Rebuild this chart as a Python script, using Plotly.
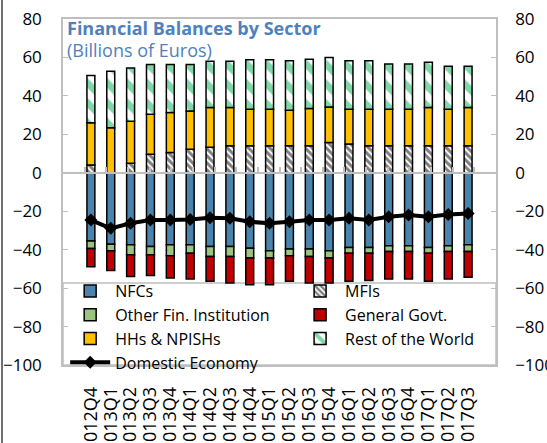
import plotly.graph_objects as go

quarters = ["2012Q4", "2013Q1", "2013Q2", "2013Q3", "2013Q4", "2014Q1", "2014Q2",
            "2014Q3", "2014Q4", "2015Q1", "2015Q2", "2015Q3", "2015Q4", "2016Q1",
            "2016Q2", "2016Q3", "2016Q4", "2017Q1", "2017Q2", "2017Q3"]

nfcs = [-35.5, -37.2, -37.5, -38.4, -37.5, -37.5, -38.4, -38.4, -39.2, -40.6,
        -39.7, -39.7, -40.6, -38.9, -38.9, -38.0, -38.0, -38.9, -38.0, -37.5]
mfis = [4.1, 0.0, 5.0, 9.6, 10.5, 12.2, 13.3, 14.1, 14.1, 14.1,
        14.1, 14.1, 15.8, 15.0, 14.1, 14.1, 14.1, 14.1, 14.1, 14.1]
other_fin = [-3.9, -3.4, -5.2, -4.3, -5.7, -4.3, -5.1, -5.1, -5.2, -3.8,
             -3.5, -3.8, -3.8, -2.9, -2.9, -2.9, -2.9, -2.9, -2.9, -3.4]
general_govt = [-9.5, -10.3, -11.2, -10.8, -11.5, -13.4, -12.9, -13.8, -13.9, -13.9,
                -13.2, -13.8, -12.9, -14.6, -14.3, -14.3, -14.3, -14.6, -14.3, -13.5]
hhs = [21.9, 23.4, 21.8, 20.9, 20.8, 20.0, 20.6, 19.8, 18.9, 18.9,
       18.4, 19.3, 18.4, 18.0, 18.9, 18.9, 18.9, 19.8, 18.9, 19.8]
rest_world = [24.6, 29.4, 27.7, 25.8, 25.0, 24.1, 24.1, 24.1, 25.8, 25.8,
              25.8, 25.7, 25.8, 25.3, 25.3, 23.6, 23.6, 23.6, 22.4, 21.5]
domestic = [-24.6, -28.9, -26.3, -24.6, -24.6, -24.3, -23.4, -23.7, -25.5, -26.3,
            -25.5, -24.6, -24.6, -23.7, -24.6, -22.9, -22.0, -22.9, -21.7, -21.2]

y_ticks = [-100, -80, -60, -40, -20, 0, 20, 40, 60, 80]

FONT = "Open Sans"
GRAY = "#BFBFBF"
outline = dict(color="black", width=1.5)

fig = go.Figure()
fig.add_trace(go.Bar(name="NFCs", x=quarters, y=nfcs, legend="legend",
                     marker=dict(color="#4A84AC", line=outline)))
fig.add_trace(go.Bar(name="MFIs", x=quarters, y=mfis, legend="legend2",
                     marker=dict(color="white", line=outline,
                                 pattern=dict(shape="\\", fgcolor="black", bgcolor="white",
                                              size=5, solidity=0.6))))
fig.add_trace(go.Bar(name="Other Fin. Institution", x=quarters, y=other_fin, legend="legend",
                     marker=dict(color="#9CC37F", line=outline)))
fig.add_trace(go.Bar(name="General Govt.", x=quarters, y=general_govt, legend="legend2",
                     marker=dict(color="#C00000", line=outline)))
fig.add_trace(go.Bar(name="HHs & NPISHs", x=quarters, y=hhs, legend="legend",
                     marker=dict(color="#FFC000", line=outline)))
fig.add_trace(go.Bar(name="Rest of the World", x=quarters, y=rest_world, legend="legend2",
                     marker=dict(color="white", line=outline,
                                 pattern=dict(shape="\\", fgcolor="#00B050", bgcolor="white",
                                              size=14, solidity=0.5))))
fig.add_trace(go.Scatter(name="Domestic Economy", x=quarters, y=domestic, legend="legend",
                         mode="lines+markers",
                         line=dict(color="black", width=4),
                         marker=dict(symbol="diamond", size=10, color="black")))
# helper trace for the secondary (zero-line / right) axes
fig.add_trace(go.Scatter(x=quarters, y=[None] * len(quarters), xaxis="x2", yaxis="y2",
                         mode="markers", showlegend=False, hoverinfo="skip"))

leg_common = dict(orientation="v", xanchor="left", yanchor="top",
                  bgcolor="rgba(0,0,0,0)", borderwidth=0, tracegroupgap=0,
                  font=dict(family=FONT, size=16, color="black"),
                  traceorder="normal", itemwidth=40)
leg_y = (365 - 274) / 346

fig.update_layout(
    width=547, height=443,
    margin=dict(l=63, r=51, t=19, b=78, autoexpand=False),
    paper_bgcolor="white", plot_bgcolor="white",
    barmode="relative", bargap=0.6,
    font=dict(family=FONT, color="black", size=16),
    showlegend=True,
    legend=dict(x=0.005, y=leg_y, **leg_common),
    legend2=dict(x=0.536, y=leg_y, **leg_common),
    xaxis=dict(type="category", categoryorder="array", categoryarray=quarters,
               tickmode="array", tickvals=quarters, ticktext=quarters,
               showline=True, linecolor=GRAY, linewidth=1.5, mirror=True,
               ticks="", tickangle=-90, tickfont=dict(family=FONT, size=18),
               showgrid=False, zeroline=False, automargin=False, ticklabelstandoff=13),
    xaxis2=dict(type="category", categoryorder="array", categoryarray=quarters,
                overlaying="x", anchor="free", position=100 / 180, side="bottom",
                showline=True, linecolor=GRAY, linewidth=1.5,
                ticks="inside", ticklen=5, tickcolor=GRAY, tickwidth=1.5,
                tickson="boundaries", showticklabels=False, showgrid=False,
                zeroline=False, range=[-0.5, len(quarters) - 0.5]),
    yaxis=dict(range=[-100, 80], tickvals=y_ticks, showline=True, linecolor=GRAY,
               linewidth=1.5, ticks="inside", ticklen=5, tickcolor=GRAY,
               showgrid=False, zeroline=False, tickfont=dict(family=FONT, size=17),
               ticklabelstandoff=16, automargin=False),
    yaxis2=dict(range=[-100, 80], tickvals=y_ticks, overlaying="y", side="right",
                anchor="x2", showline=True, linecolor=GRAY, linewidth=1.5,
                ticks="inside", ticklen=5, tickcolor=GRAY, showgrid=False,
                zeroline=False, tickfont=dict(family=FONT, size=17),
                ticklabelstandoff=14, automargin=False),
)

# legend frame (reference legend box spans the plot width at the bottom)
fig.add_shape(type="rect", xref="paper", yref="paper",
              x0=0, x1=1, y0=0, y1=(365 - 283) / 346,
              line=dict(color=GRAY, width=1.5), fillcolor="white", layer="below")

fig.add_annotation(text="<b>Financial Balances by Sector</b>", xref="paper", yref="paper",
                   x=0.005, y=(365 - 28) / 346, xanchor="left", yanchor="middle",
                   showarrow=False, font=dict(family=FONT, size=18, color="#4F81BD"))
fig.add_annotation(text="(Billions of Euros)", xref="paper", yref="paper",
                   x=0.005, y=(365 - 50) / 346, xanchor="left", yanchor="middle",
                   showarrow=False, font=dict(family=FONT, size=18, color="#4F81BD"))

# outer frame line on the left edge of the image
fig.add_shape(type="line", xref="paper", yref="paper",
              x0=(2 - 63) / 433, x1=(2 - 63) / 433, y0=-78 / 346, y1=1 + 19 / 346,
              line=dict(color="#404040", width=1.5))

fig.write_html("out.html", config={"displayModeBar": False},
               post_script="document.body.style.margin='0';")
